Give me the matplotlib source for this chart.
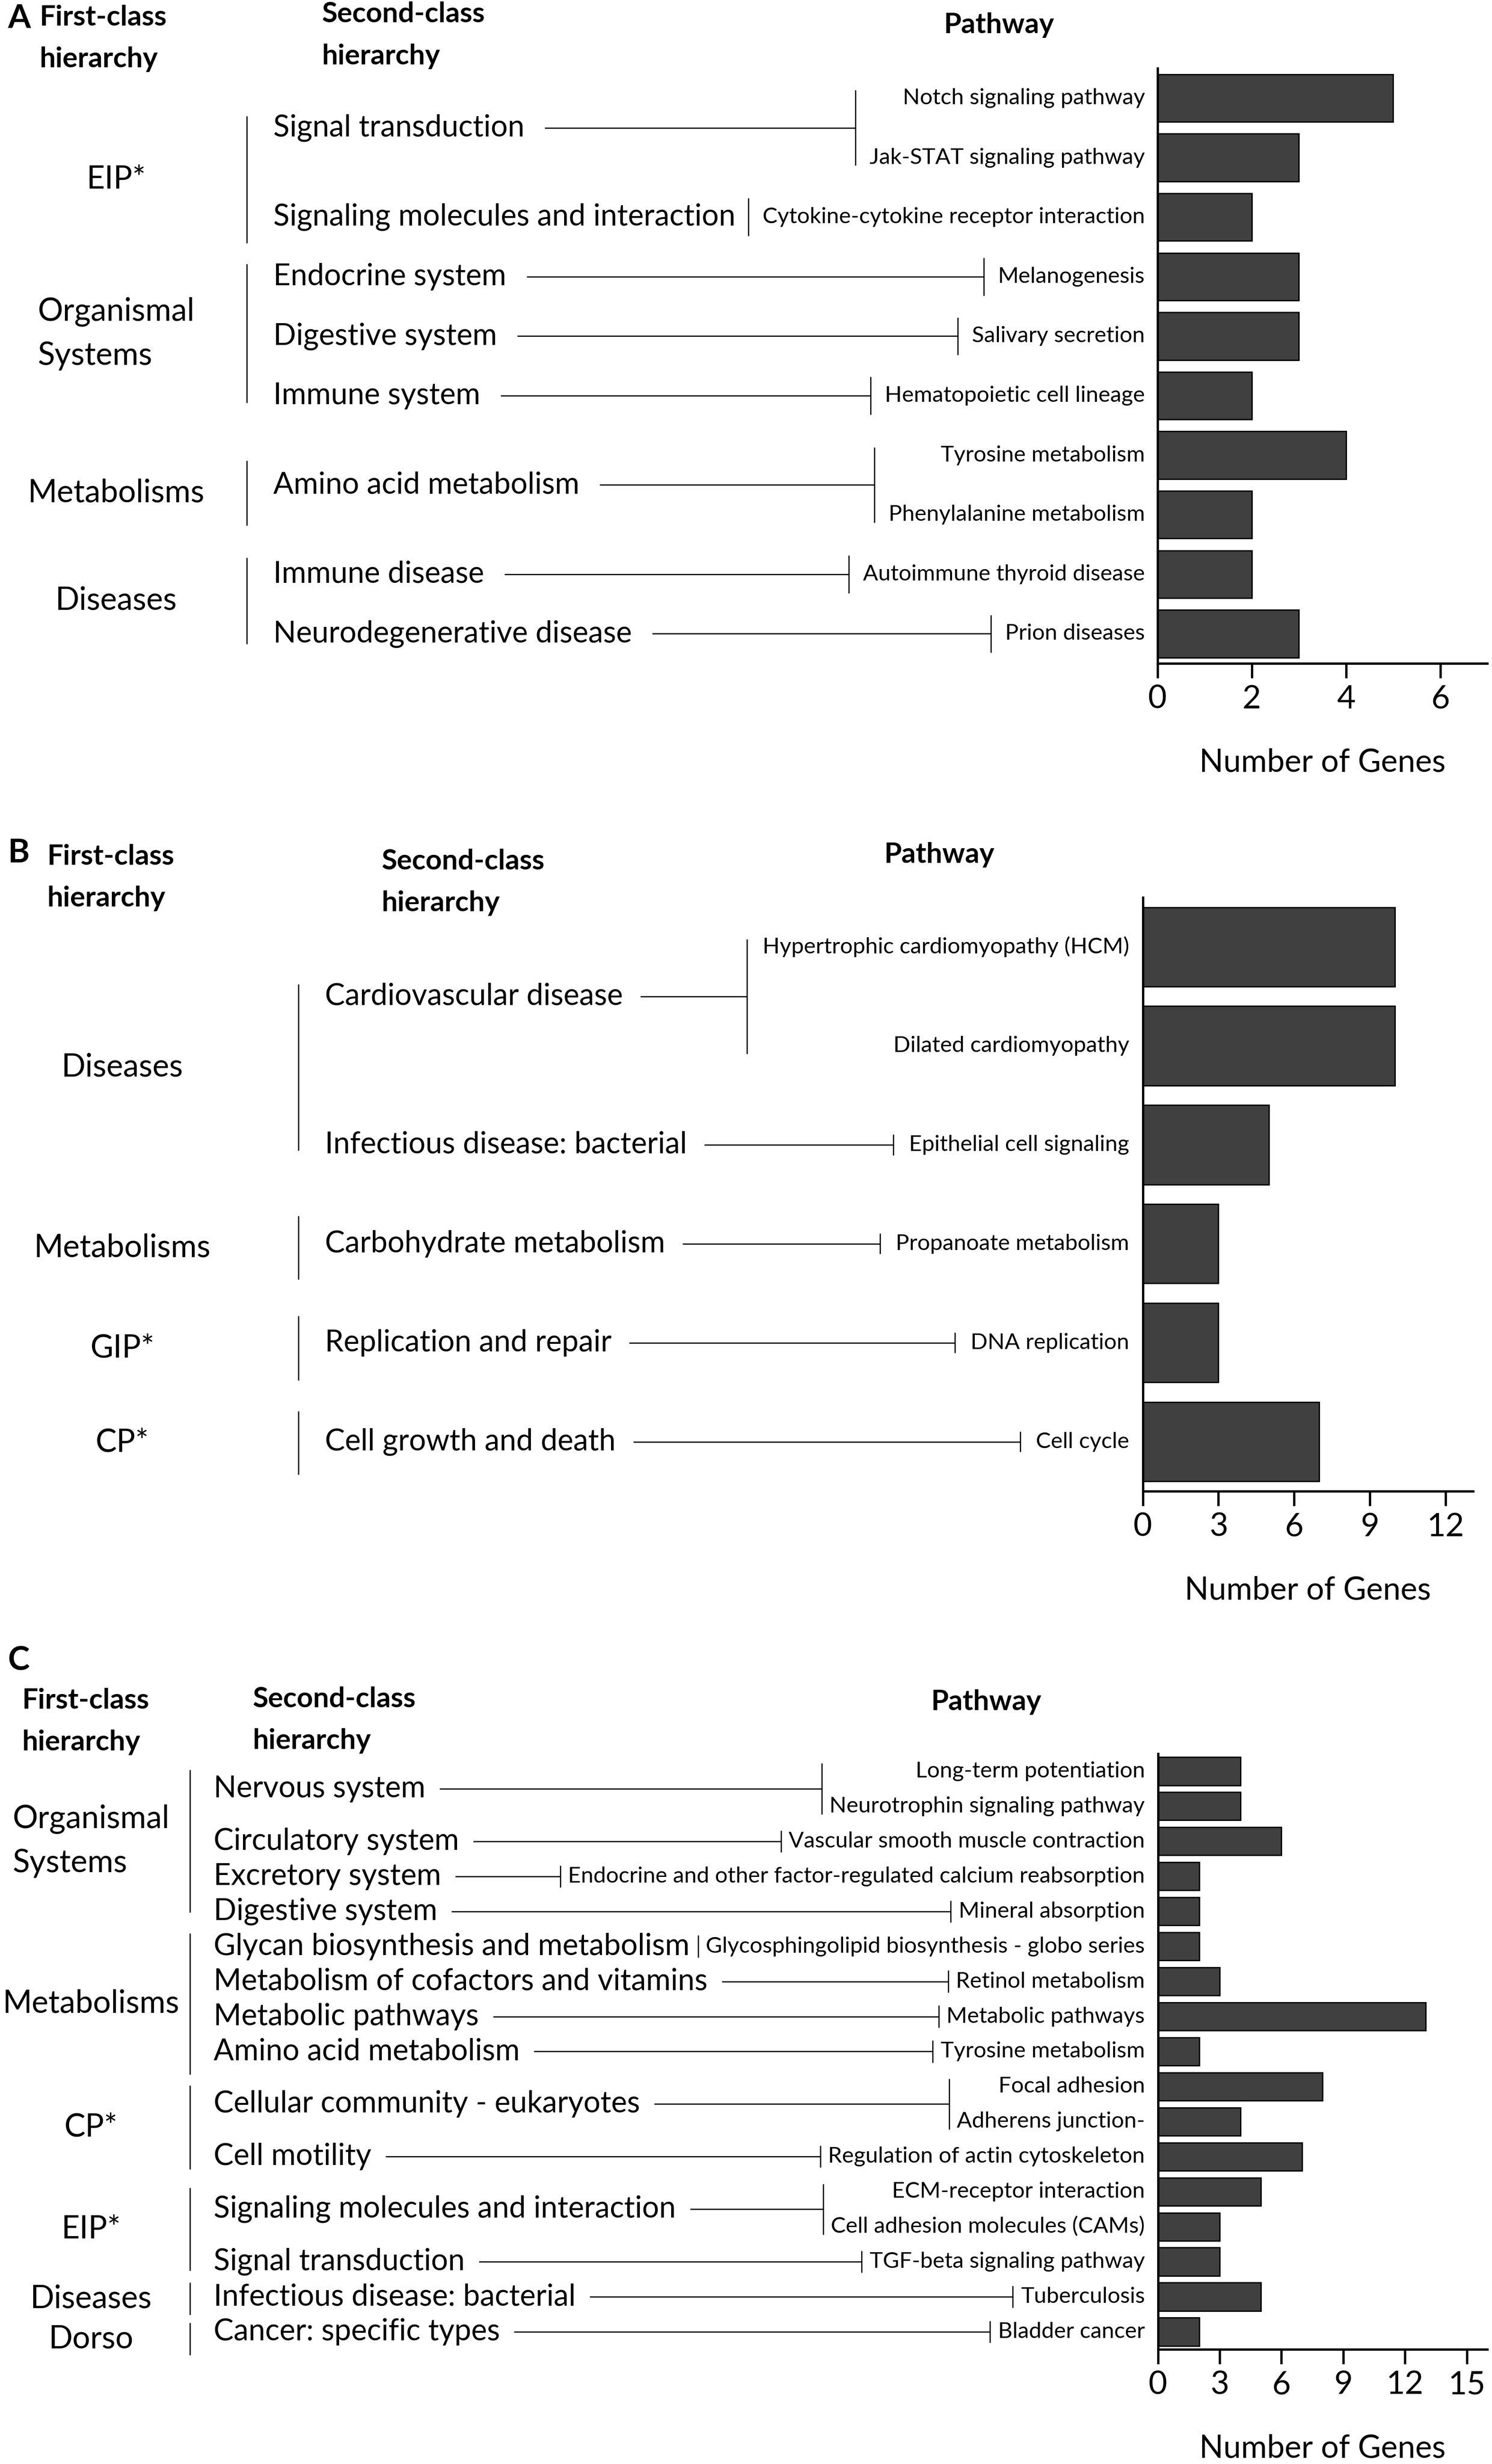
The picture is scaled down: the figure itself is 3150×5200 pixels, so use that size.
import numpy as np
import matplotlib
matplotlib.use('Agg')
import matplotlib.pyplot as plt
from matplotlib.transforms import blended_transform_factory

plt.rcParams['font.family'] = ['Lato', 'DejaVu Sans']

# ---------------- data ----------------
# panel A
a_first = ['EIP*', 'Organismal\nSystems', 'Metabolisms', 'Diseases']
a_second = ['Signal transduction', 'Signaling molecules and interaction',
            'Endocrine system', 'Digestive system', 'Immune system',
            'Amino acid metabolism', 'Immune disease', 'Neurodegenerative disease']
a_second_parent = [0, 0, 1, 1, 1, 2, 3, 3]
a_pathways = ['Notch signaling pathway', 'Jak-STAT signaling pathway',
              'Cytokine-cytokine receptor interaction', 'Melanogenesis',
              'Salivary secretion', 'Hematopoietic cell lineage',
              'Tyrosine metabolism', 'Phenylalanine metabolism',
              'Autoimmune thyroid disease', 'Prion diseases']
a_pathway_parent = [0, 0, 1, 2, 3, 4, 5, 5, 6, 7]
a_genes = [5, 3, 2, 3, 3, 2, 4, 2, 2, 3]
a_ticks = [0, 2, 4, 6]

# panel B
b_first = ['Diseases', 'Metabolisms', 'GIP*', 'CP*']
b_second = ['Cardiovascular disease', 'Infectious disease: bacterial',
            'Carbohydrate metabolism', 'Replication and repair',
            'Cell growth and death']
b_second_parent = [0, 0, 1, 2, 3]
b_pathways = ['Hypertrophic cardiomyopathy (HCM)', 'Dilated cardiomyopathy',
              'Epithelial cell signaling', 'Propanoate metabolism',
              'DNA replication', 'Cell cycle']
b_pathway_parent = [0, 0, 1, 2, 3, 4]
b_genes = [10, 10, 5, 3, 3, 7]
b_ticks = [0, 3, 6, 9, 12]

# panel C
c_first = ['Organismal\nSystems', 'Metabolisms', 'CP*', 'EIP*', 'Diseases', 'Dorso']
c_second = ['Nervous system', 'Circulatory system', 'Excretory system',
            'Digestive system', 'Glycan biosynthesis and metabolism',
            'Metabolism of cofactors and vitamins', 'Metabolic pathways',
            'Amino acid metabolism', 'Cellular community - eukaryotes',
            'Cell motility', 'Signaling molecules and interaction',
            'Signal transduction', 'Infectious disease: bacterial',
            'Cancer: specific types']
c_second_parent = [0, 0, 0, 0, 1, 1, 1, 1, 2, 2, 3, 3, 4, 5]
c_pathways = ['Long-term potentiation', 'Neurotrophin signaling pathway',
              'Vascular smooth muscle contraction',
              'Endocrine and other factor-regulated calcium reabsorption',
              'Mineral absorption', 'Glycosphingolipid biosynthesis - globo series',
              'Retinol metabolism', 'Metabolic pathways', 'Tyrosine metabolism',
              'Focal adhesion', 'Adherens junction-',
              'Regulation of actin cytoskeleton', 'ECM-receptor interaction',
              'Cell adhesion molecules (CAMs)', 'TGF-beta signaling pathway',
              'Tuberculosis', 'Bladder cancer']
c_pathway_parent = [0, 0, 1, 2, 3, 4, 5, 6, 7, 8, 8, 9, 10, 10, 11, 12, 13]
c_genes = [4, 4, 6, 2, 2, 2, 3, 13, 2, 8, 4, 7, 5, 3, 3, 5, 2]
c_ticks = [0, 3, 6, 9, 12, 15]

# ---------------- layout (reference grid 950 x 1568) ----------------
REF_W, REF_H = 950, 1568

# first-class bracket spans, in bar-row units
a_brackets = [(0.30, 2.44), (2.79, 5.12), (6.09, 7.18), (7.72, 9.17)]
b_brackets = [(0.38, 2.06), (2.72, 3.36), (3.73, 4.38), (4.69, 5.33)]
c_brackets = [(-0.04, 4.03), (4.62, 8.66), (8.97, 11.36), (11.89, 14.26),
              (14.60, 15.51), (15.75, 16.66)]

PANELS = {
    'A': dict(letter_xy=(5, 12), first_hdr=(25, 24.5), second_hdr=(205, 22.5),
              path_hdr=(636, 16), axes=(737, 43.5, 947, 422.2), xmax=7,
              first_x=74, bracket_x=157, second_x=174, path_right=729,
              tick_half=12, line_gap=13, tick_gap=9),
    'B': dict(letter_xy=(5, 543), first_hdr=(30, 558.5), second_hdr=(243, 561.5),
              path_hdr=(598, 544), axes=(727.6, 571, 938, 949), xmax=13.1,
              first_x=78, bracket_x=190, second_x=207, path_right=719,
              tick_half=6.5, line_gap=11, tick_gap=10),
    'C': dict(letter_xy=(5, 1057), first_hdr=(14, 1095.5), second_hdr=(161, 1094.5),
              path_hdr=(628, 1083), axes=(737.3, 1116, 947, 1495), xmax=16,
              first_x=58, bracket_x=121, second_x=136, path_right=729,
              tick_half=7, line_gap=9, tick_gap=5),
}

BAR_COLOR = '#404040'
LINE_KW = dict(color='black', lw=1.8, solid_capstyle='butt')


def draw_panel(fig, lay, key, first, second, second_parent, pathways,
               pathway_parent, genes, ticks, brackets):
    cfg = PANELS[key]
    l, t, r, b = cfg['axes']
    ax = fig.add_axes([l / REF_W, 1 - b / REF_H, (r - l) / REF_W, (b - t) / REF_H])
    ax.patch.set_alpha(0)
    n = len(genes)
    rows = np.arange(n)
    ax.barh(rows, genes, height=0.8, color=BAR_COLOR, edgecolor='black', linewidth=2)
    ax.set_ylim(n - 0.5, -0.5)
    ax.set_xlim(0, cfg['xmax'])
    ax.set_xticks(ticks)
    ax.set_yticks([])
    for s in ['top', 'right']:
        ax.spines[s].set_visible(False)
    for s in ['left', 'bottom']:
        ax.spines[s].set_linewidth(3.5)
    ax.tick_params(axis='x', length=22, width=3.5, labelsize=49, pad=10)
    ax.set_xlabel('Number of Genes', fontsize=48, labelpad=52)

    # headers
    lay.text(*cfg['letter_xy'], key, fontsize=50, fontweight='bold', ha='left', va='center')
    lay.text(*cfg['first_hdr'], 'First-class\nhierarchy', fontsize=43,
             fontweight='bold', ha='left', va='center', linespacing=1.78)
    lay.text(*cfg['second_hdr'], 'Second-class\nhierarchy', fontsize=43,
             fontweight='bold', ha='left', va='center', linespacing=1.78)
    lay.text(*cfg['path_hdr'], 'Pathway', fontsize=43, fontweight='bold',
             ha='center', va='center')

    tr = blended_transform_factory(lay.transData, ax.transData)
    px2row = n / (b - t)
    renderer = fig.canvas.get_renderer()
    inv = lay.transData.inverted()

    def to_x(xd):
        return inv.transform((xd, 0))[0]

    path_txt = [lay.text(cfg['path_right'], i, name, transform=tr, ha='right',
                         va='center', fontsize=34)
                for i, name in enumerate(pathways)]
    parent = np.array(pathway_parent)
    for k, name in enumerate(second):
        idx = np.flatnonzero(parent == k)
        yc = rows[idx].mean()
        st = lay.text(cfg['second_x'], yc, name, transform=tr, ha='left',
                      va='center', fontsize=45.5)
        x_end = to_x(st.get_window_extent(renderer).x1)
        x_v = min(to_x(path_txt[i].get_window_extent(renderer).x0) for i in idx) - cfg['tick_gap']
        if len(idx) == 1:
            pad = cfg['tick_half'] * px2row
            y0, y1 = yc - pad, yc + pad
        else:
            pad = 5 * px2row
            y0, y1 = rows[idx[0]] - pad, rows[idx[-1]] + pad
        lay.plot([x_v, x_v], [y0, y1], transform=tr, **LINE_KW)
        x_s = x_end + cfg['line_gap']
        if x_s < x_v:
            lay.plot([x_s, x_v], [yc, yc], transform=tr, **LINE_KW)

    for g, name in enumerate(first):
        y0, y1 = brackets[g]
        lay.plot([cfg['bracket_x']] * 2, [y0, y1], transform=tr, **LINE_KW)
        lay.text(cfg['first_x'], (y0 + y1) / 2, name, transform=tr, ha='center',
                 va='center', multialignment='left', fontsize=48, linespacing=1.62)


def main():
    fig = plt.figure(figsize=(31.5, 52), dpi=100)
    lay = fig.add_axes([0, 0, 1, 1])
    lay.set_xlim(0, REF_W)
    lay.set_ylim(REF_H, 0)
    lay.axis('off')

    draw_panel(fig, lay, 'A', a_first, a_second, a_second_parent, a_pathways,
               a_pathway_parent, a_genes, a_ticks, a_brackets)
    draw_panel(fig, lay, 'B', b_first, b_second, b_second_parent, b_pathways,
               b_pathway_parent, b_genes, b_ticks, b_brackets)
    draw_panel(fig, lay, 'C', c_first, c_second, c_second_parent, c_pathways,
               c_pathway_parent, c_genes, c_ticks, c_brackets)

    fig.savefig('out.png', dpi=100, facecolor='white')


if __name__ == "__main__":
    main()
